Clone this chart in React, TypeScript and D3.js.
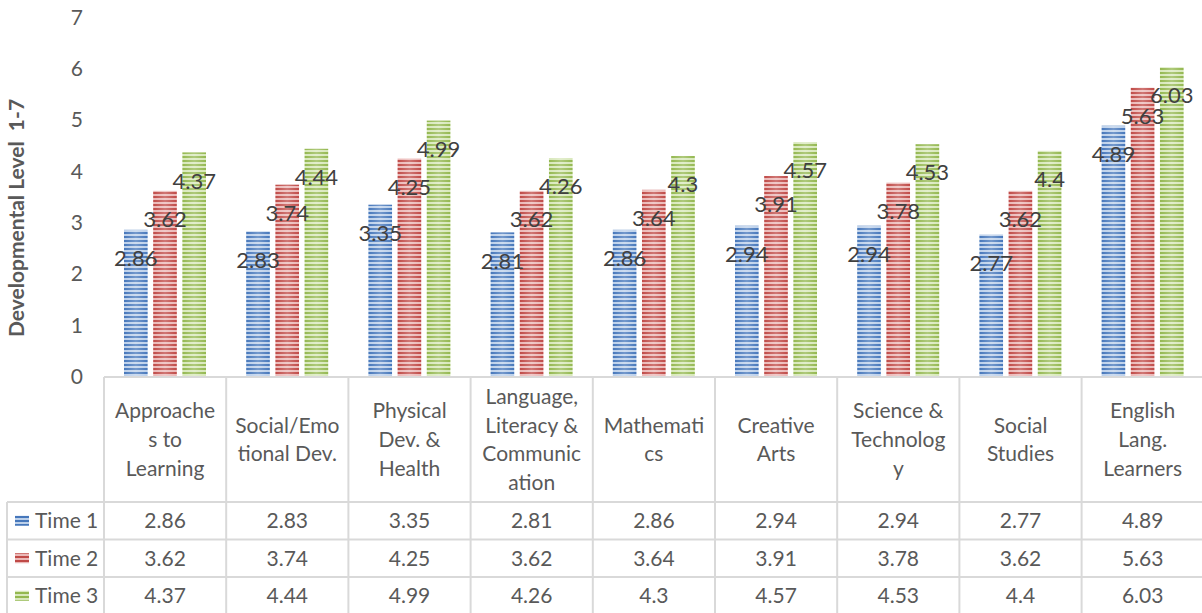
import * as d3 from "d3";

const categories = [
  ["Approache", "s to", "Learning"],
  ["Social/Emo", "tional Dev."],
  ["Physical", "Dev. &", "Health"],
  ["Language,", "Literacy &", "Communic", "ation"],
  ["Mathemati", "cs"],
  ["Creative", "Arts"],
  ["Science &", "Technolog", "y"],
  ["Social", "Studies"],
  ["English", "Lang.", "Learners"],
];
const seriesNames = ["Time 1", "Time 2", "Time 3"];
const time1 = [2.86, 2.83, 3.35, 2.81, 2.86, 2.94, 2.94, 2.77, 4.89];
const time2 = [3.62, 3.74, 4.25, 3.62, 3.64, 3.91, 3.78, 3.62, 5.63];
const time3 = [4.37, 4.44, 4.99, 4.26, 4.3, 4.57, 4.53, 4.4, 6.03];
const yTicks = [0, 1, 2, 3, 4, 5, 6, 7];

const seriesValues = [time1, time2, time3];
const colors = [
  { dark: "#4677bb", light: "#bcd0ea" },
  { dark: "#c04a47", light: "#ebb8b7" },
  { dark: "#94b850", light: "#d8e8bb" },
];

const W = 1202;
const H = 613;
const FONT = "Lato, 'Open Sans', sans-serif";

export default function App() {
  const left = 104;
  const catW = 122.2;
  const x = d3
    .scaleBand<number>()
    .domain(d3.range(categories.length))
    .range([left, left + catW * categories.length]);
  const xInner = d3
    .scaleBand<number>()
    .domain(d3.range(seriesNames.length))
    .range([20, 102])
    .paddingInner(0.19);
  const y = d3.scaleLinear().domain([0, 7]).range([376.5, 17.5]);

  const tableTop = 377;
  const rowTops = [502, 539.5, 577];
  const rowH = 37.5;
  const headerMid = (tableTop + rowTops[0]) / 2;
  const lineGap = 28.7;
  const grid = "#d9d9d9";
  const right = W + 10;

  return (
    <svg
      width={W}
      height={H}
      style={{ position: "absolute", left: 0, top: 0, background: "#fff" }}
      fontFamily={FONT}
    >
      <defs>
        {colors.map((c, i) => (
          <pattern
            key={i}
            id={`stripe${i}`}
            patternUnits="userSpaceOnUse"
            width={10}
            height={4}
          >
            <rect width={10} height={4} fill={c.light} />
            <rect width={10} height={2} fill={c.dark} />
          </pattern>
        ))}
        <linearGradient id="sheen" x1="0" x2="1" y1="0" y2="0">
          <stop offset="0" stopColor="#fff" stopOpacity={0} />
          <stop offset="0.5" stopColor="#fff" stopOpacity={0.25} />
          <stop offset="1" stopColor="#fff" stopOpacity={0} />
        </linearGradient>
      </defs>

      {/* y axis title */}
      <text
        transform={`translate(24,${218}) rotate(-90)`}
        textAnchor="middle"
        fontWeight="bold"
        fontSize={21}
        fill="#595959"
        style={{ whiteSpace: "pre" }}
      >
        Developmental Level  1-7
      </text>

      {/* y tick labels */}
      {yTicks.map((t) => (
        <text
          key={t}
          x={83}
          y={y(t)}
          dy="0.35em"
          textAnchor="end"
          fontSize={21}
          fill="#595959"
        >
          {t}
        </text>
      ))}

      {/* bars */}
      {seriesValues.map((vals, s) =>
        vals.map((v, i) => {
          const bx = (x(i) as number) + (xInner(s) as number);
          const bw = xInner.bandwidth();
          return (
            <g key={`${s}-${i}`}>
              <rect x={bx} y={y(v)} width={bw} height={y(0) - y(v)} fill={`url(#stripe${s})`} />
              <rect x={bx} y={y(v)} width={bw} height={y(0) - y(v)} fill="url(#sheen)" />
            </g>
          );
        })
      )}

      {/* data labels */}
      {seriesValues.map((vals, s) =>
        vals.map((v, i) => (
          <text
            key={`l${s}-${i}`}
            x={(x(i) as number) + (xInner(s) as number) + xInner.bandwidth() / 2}
            y={y(v) + 28.5}
            dy="0.35em"
            textAnchor="middle"
            fontSize={22}
            fill="#404040"
          >
            {v}
          </text>
        ))
      )}

      {/* data table grid */}
      <g stroke={grid} strokeWidth={2}>
        <line x1={left} x2={right} y1={tableTop} y2={tableTop} />
        {rowTops.map((r) => (
          <line key={r} x1={7} x2={right} y1={r} y2={r} />
        ))}
        <line x1={7} x2={7} y1={rowTops[0]} y2={H + 5} />
        {d3.range(categories.length + 1).map((i) => (
          <line
            key={i}
            x1={left + i * catW}
            x2={left + i * catW}
            y1={tableTop}
            y2={H + 5}
          />
        ))}
      </g>

      {/* category labels */}
      {categories.map((lines, i) => (
        <text
          key={i}
          textAnchor="middle"
          fontSize={21}
          fill="#595959"
        >
          {lines.map((ln, k) => (
            <tspan
              key={k}
              x={(x(i) as number) + x.bandwidth() / 2}
              y={headerMid + (k - (lines.length - 1) / 2) * lineGap}
              dy="0.35em"
            >
              {ln}
            </tspan>
          ))}
        </text>
      ))}

      {/* legend + values */}
      {seriesNames.map((name, s) => {
        const cy = rowTops[s] + rowH / 2;
        return (
          <g key={name}>
            <rect x={15} y={cy - 5} width={14} height={10} fill={`url(#stripe${s})`} />
            <text x={35} y={cy} dy="0.35em" fontSize={21} fill="#595959">
              {name}
            </text>
            {seriesValues[s].map((v, i) => (
              <text
                key={i}
                x={(x(i) as number) + x.bandwidth() / 2}
                y={cy}
                dy="0.35em"
                textAnchor="middle"
                fontSize={21}
                fill="#595959"
              >
                {v}
              </text>
            ))}
          </g>
        );
      })}
    </svg>
  );
}
